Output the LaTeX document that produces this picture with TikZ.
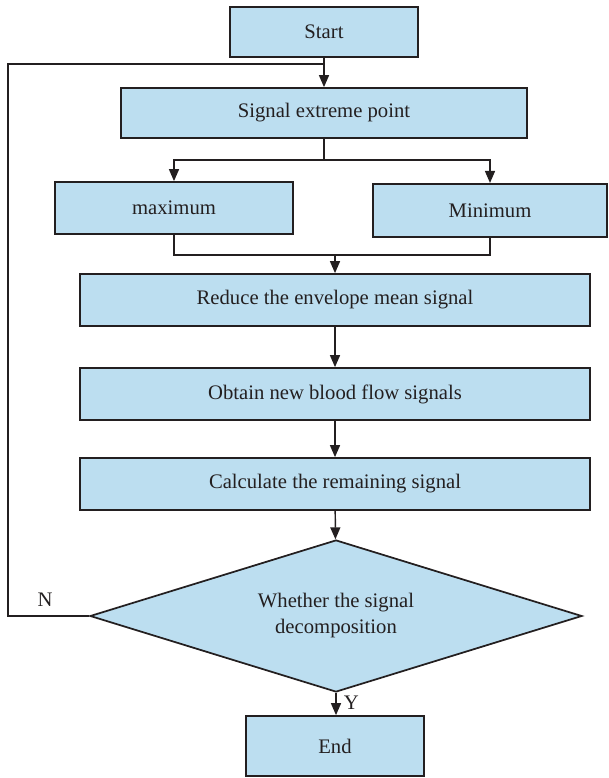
\documentclass[tikz,border=0pt]{standalone}
\usepackage{fontspec}
\setmainfont{Liberation Serif}
\usepackage{tikz}
\usetikzlibrary{arrows.meta,shapes.geometric}
\definecolor{BoxFill}{HTML}{BCDEF0}
\definecolor{Ink}{HTML}{231F20}

\tikzset{
  procbox/.style={draw=Ink,line width=1.3pt,fill=BoxFill,inner sep=2pt},
  decbox/.style={draw=Ink,line width=1.3pt,fill=BoxFill,diamond,aspect=3.2,inner sep=0pt,align=center,minimum width=369pt,minimum height=114pt},
  line/.style={draw=Ink,line width=1.1pt},
  arr/.style={line,-{Triangle[length=9pt,width=7.5pt]}}
}

\begin{document}
\begin{tikzpicture}[x=0.75pt,y=-0.75pt,font=\fontsize{15.5}{19.5}\selectfont,text=Ink]
        \useasboundingbox (0,0) rectangle (608,778);
        \node[procbox,minimum width=141pt,minimum height=38pt] (start) at (324,32) {Start};
        \node[procbox,minimum width=305pt,minimum height=37.5pt] (sig) at (324,113) {Signal extreme point};
        \node[procbox,minimum width=179pt,minimum height=39pt] (max) at (174,208) {maximum};
        \node[procbox,minimum width=175pt,minimum height=40pt] (min) at (490,210.5) {Minimum};
        \node[procbox,minimum width=383pt,minimum height=39pt] (reduce) at (335,300) {Reduce the envelope mean signal};
        \node[procbox,minimum width=383pt,minimum height=39pt] (obtain) at (335,394) {Obtain new blood flow signals};
        \node[procbox,minimum width=383pt,minimum height=39pt] (calc) at (335,484) {Calculate the remaining signal};
        \node[decbox] (dec) at (336,616) {Whether the signal\\decomposition};
        \node[procbox,minimum width=134pt,minimum height=45pt] (end) at (335,746) {End};
        \coordinate (join) at (324,64);
        \coordinate (loopcorner) at (8,64);
        \coordinate (split) at (324,160);
        \coordinate (merge) at (335,255);
        % main flow
        \draw[arr] (start) -- (sig);
        \draw[arr] (sig) -- (split) -| (max);
        \draw[arr] (split) -| (min);
        \draw[line] (max) |- (merge);
        \draw[line] (min) |- (merge);
        \draw[arr] (merge) -- (reduce);
        \draw[arr] (reduce) -- (obtain);
        \draw[arr] (obtain) -- (calc);
        \draw[arr] (calc) -- (dec);
        \draw[arr] (dec.south) -- (end.north -| dec.south) node[pos=0.45,right=2pt] (yes) {Y};
        % loop back
        \draw[line] (dec.west) -| (loopcorner) -- (join);
        \node (no) at (45,600) {N};
      \end{tikzpicture}
\end{document}
